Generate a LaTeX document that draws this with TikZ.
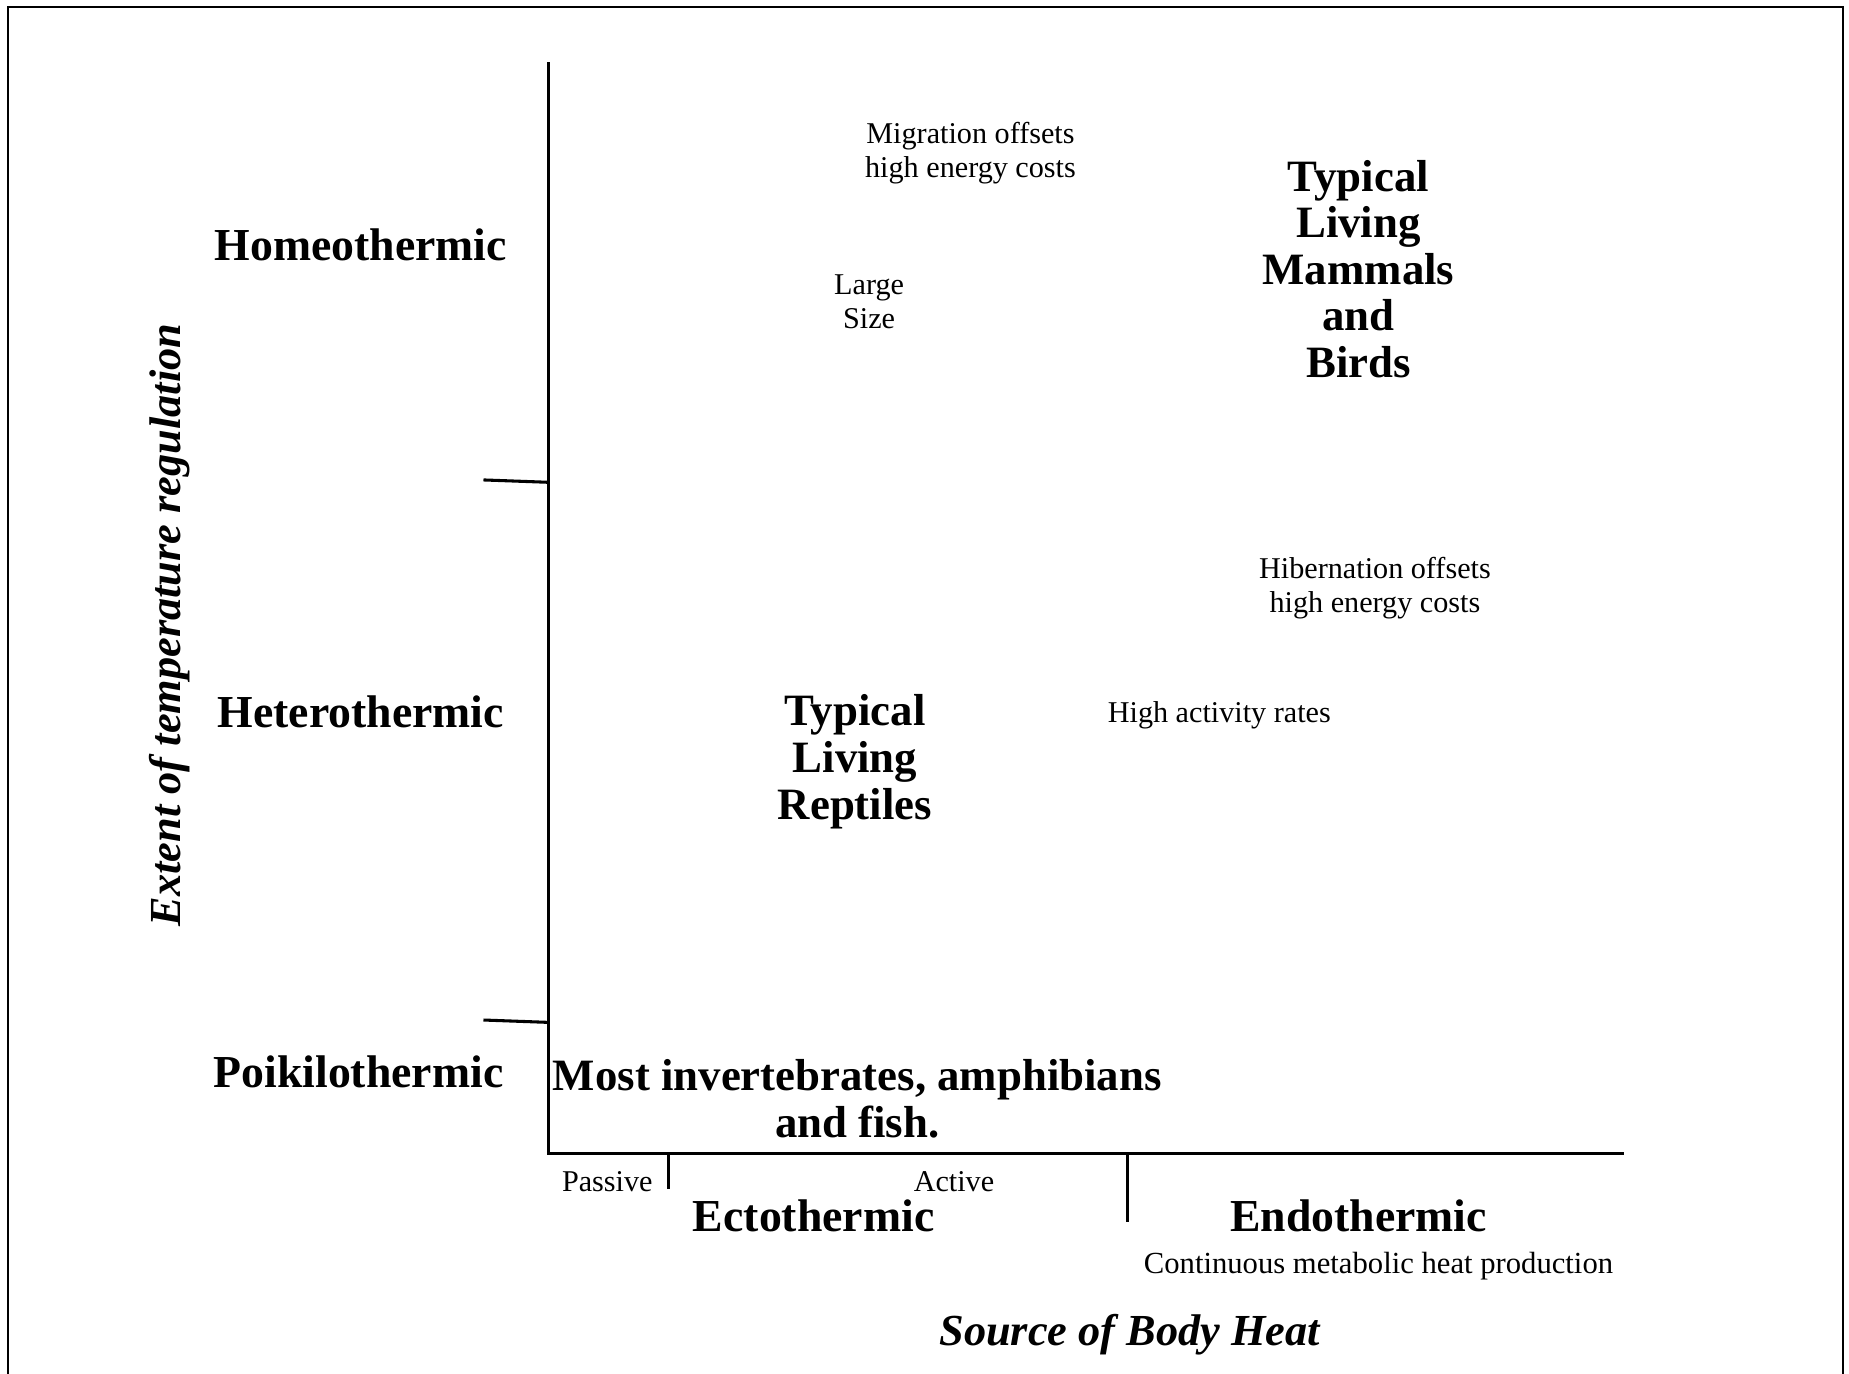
\documentclass[tikz,border=0pt]{standalone}
\usepackage{fontspec}
\setmainfont{Liberation Serif}
\begin{document}
\begin{tikzpicture}[x=0.5pt,y=-0.5pt,
  axisline/.style={line width=1.3pt},
  catlabel/.style={font=\bfseries\fontsize{19.4}{20}\selectfont, inner sep=0pt},
  biglabel/.style={font=\bfseries\fontsize{19}{19.75}\selectfont, inner sep=0pt, align=center},
  smalllabel/.style={font=\fontsize{12.8}{14.5}\selectfont, inner sep=0pt, align=center},
  axtitle/.style={font=\bfseries\itshape\fontsize{18.8}{20}\selectfont, inner sep=0pt}]
\useasboundingbox (0,0) rectangle (1568,1165);
% frame
\draw[line width=0.9pt] (7,1170) -- (7,6) -- (1563,6) -- (1563,1170);
% axes
\coordinate (ytop) at (465,53);
\coordinate (O) at (465,978);
\coordinate (xend) at (1377,978);
\draw[axisline] (ytop) -- (O) -- (xend);
% y ticks
\coordinate (t1a) at (410,407); \coordinate (t1b) at (465,409);
\coordinate (t2a) at (410,865); \coordinate (t2b) at (465,867);
\draw[axisline] (t1a) -- (t1b);
\draw[axisline] (t2a) -- (t2b);
% x ticks
\coordinate (x1a) at (567,978); \coordinate (x1b) at (567,1008);
\coordinate (x2a) at (956,978); \coordinate (x2b) at (956,1036);
\draw[axisline] (x1a) -- (x1b);
\draw[axisline] (x2a) -- (x2b);
% y categories
\node[catlabel] (homeo) at (306,208) {Homeothermic};
\node[catlabel] (hetero) at (306,604) {Heterothermic};
\node[catlabel] (poik) at (304,909) {Poikilothermic};
% x categories
\node[smalllabel] (passive) at (515,1002) {Passive};
\node[smalllabel] (active) at (809,1002) {Active};
\node[catlabel] (ecto) at (690,1031) {Ectothermic};
\node[catlabel] (endo) at (1152,1031) {Endothermic};
\node[smalllabel, font=\fontsize{13}{14.5}\selectfont] (cont) at (1169,1074) {Continuous metabolic heat production};
% axis titles
\node[axtitle] (xtitle) at (958,1132) {Source of Body Heat};
\node[axtitle, rotate=90] (ytitle) at (144,530) {Extent of temperature regulation};
% plot contents
\node[smalllabel] (migr) at (823,130) {Migration offsets\\high energy costs};
\node[smalllabel] (large) at (737,256) {Large\\Size};
\node[biglabel] (mamm) at (1152,228) {Typical\\Living\\Mammals\\and\\Birds};
\node[smalllabel] (hib) at (1166,499) {Hibernation offsets\\high energy costs};
\node[smalllabel] (high) at (1034,607) {High activity rates};
\node[biglabel] (rept) at (725,646) {Typical\\Living\\Reptiles};
\node[biglabel] (invert) at (727,932) {Most invertebrates, amphibians\\and fish.};
\end{tikzpicture}
\end{document}
